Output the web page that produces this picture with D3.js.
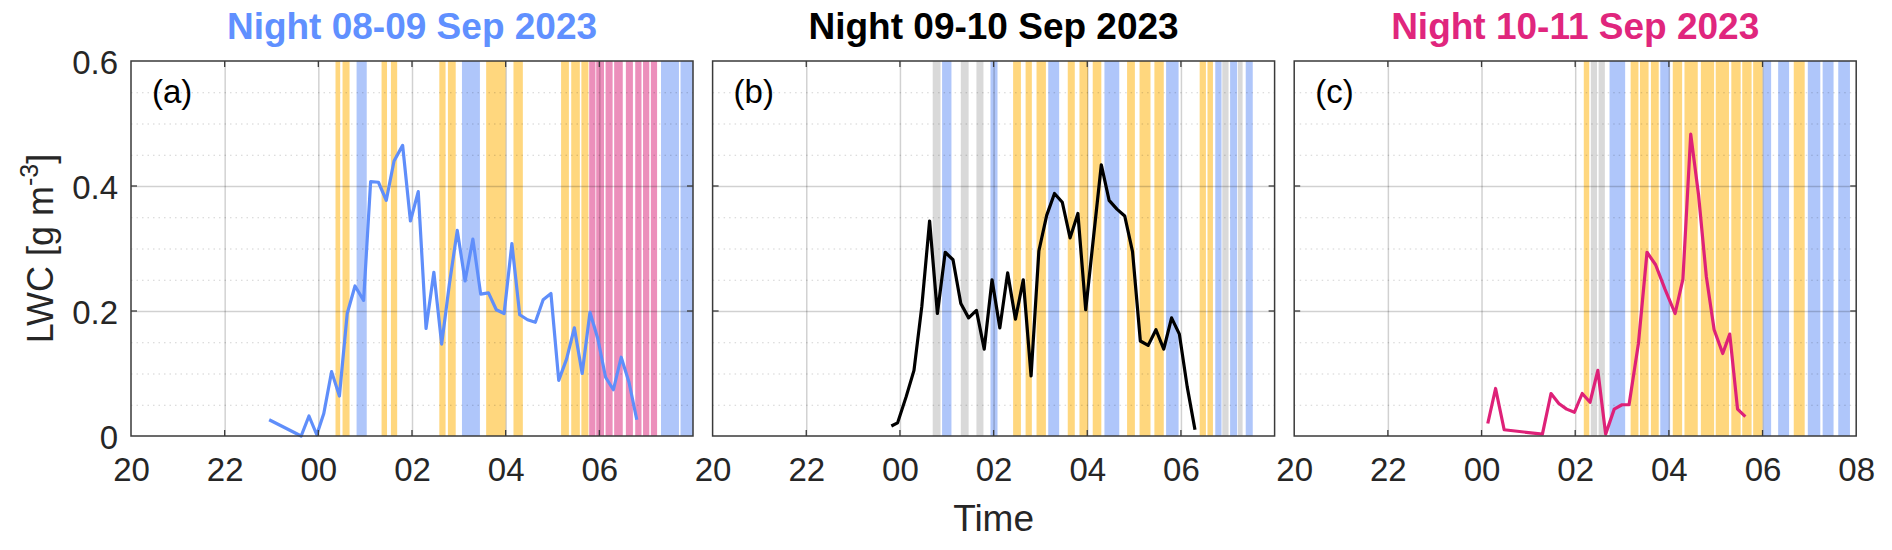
<!DOCTYPE html>
<html>
<head>
<meta charset="utf-8">
<script src="https://cdn.jsdelivr.net/npm/d3@7"></script>
<style>
  body { margin: 0; background: #fff; }
  svg { font-family: "Liberation Sans", Arial, sans-serif; }
</style>
</head>
<body>
<svg id="chart" width="1892" height="550"></svg>
<script>
// ---- data ----
const nights = ['2023-09-08', '2023-09-09', '2023-09-10']
const titles = ['Night 08-09 Sep 2023', 'Night 09-10 Sep 2023', 'Night 10-11 Sep 2023']
const panelTags = ['(a)', '(b)', '(c)']
const yTicks = [0, 0.2, 0.4, 0.6]

const timesA = ['22:57','23:38','23:48','23:58','00:07','00:17','00:27','00:37','00:47','00:58',
  '01:07','01:17','01:27','01:37','01:48','01:58','02:08','02:18','02:28','02:38',
  '02:48','02:58','03:08','03:18','03:28','03:38','03:48','03:58','04:08','04:18',
  '04:28','04:38','04:48','04:58','05:08','05:18','05:28','05:38','05:48','05:58',
  '06:08','06:18','06:28','06:38','06:48']
const lwcA = [0.026,0.000,0.032,0.002,0.036,0.103,0.064,0.196,0.240,0.217,
  0.407,0.406,0.377,0.440,0.465,0.344,0.391,0.172,0.262,0.147,
  0.244,0.329,0.248,0.315,0.227,0.229,0.202,0.196,0.308,0.194,
  0.186,0.182,0.218,0.228,0.089,0.123,0.173,0.100,0.198,0.156,
  0.094,0.074,0.126,0.086,0.026]

const timesB = ['23:49','23:57','00:08','00:18','00:28','00:38','00:48','00:58','01:08','01:18',
  '01:28','01:38','01:48','01:58','02:08','02:18','02:28','02:38','02:48','02:58',
  '03:08','03:18','03:28','03:38','03:48','03:58','04:08','04:18','04:28','04:38',
  '04:48','04:58','05:08','05:18','05:28','05:38','05:48','05:58','06:08','06:18']
const lwcB = [0.016,0.021,0.063,0.105,0.207,0.344,0.196,0.294,0.282,0.212,
  0.189,0.201,0.139,0.250,0.173,0.261,0.187,0.250,0.096,0.296,
  0.353,0.388,0.374,0.317,0.356,0.202,0.318,0.434,0.377,0.363,
  0.352,0.295,0.152,0.145,0.170,0.139,0.189,0.163,0.079,0.010]

const timesC = ['00:08','00:18','00:29','01:18','01:29','01:39','01:49','01:59','02:09','02:19',
  '02:29','02:39','02:50','03:00','03:09','03:21','03:32','03:43','03:55','04:08',
  '04:18','04:28','04:38','04:48','04:58','05:09','05:18','05:28','05:38']
const lwcC = [0.020,0.076,0.010,0.003,0.068,0.052,0.043,0.038,0.068,0.054,
  0.105,0.003,0.043,0.050,0.050,0.148,0.294,0.274,0.235,0.196,
  0.251,0.483,0.386,0.255,0.170,0.132,0.163,0.043,0.031]

// shaded periods: [start, end, class]  o = orange, b = blue, p = pink, g = grey
const bandsA = [['00:22','00:28','o'],['00:31','00:40','o'],['00:49','01:02','b'],['01:21','01:28','o'],
  ['01:33','01:41','o'],['02:35','02:43','o'],['02:46','02:56','o'],['03:04','03:27','b'],
  ['03:35','04:00','o'],['04:10','04:22','o'],['05:11','05:21','o'],['05:24','05:35','o'],
  ['05:37','05:46','o'],['05:47','05:55','p'],['05:56','06:06','p'],['06:08','06:17','p'],
  ['06:19','06:30','p'],['06:34','06:43','p'],['06:46','06:54','p'],['06:56','07:04','p'],
  ['07:06','07:14','p'],['07:19','07:42','b'],['07:44','08:00','b']]
const bandsB = [['00:42','00:52','g'],['00:54','01:06','b'],['01:18','01:28','g'],['01:38','01:47','g'],
  ['01:56','02:05','b'],['02:25','02:35','o'],['02:41','02:49','o'],['02:55','03:07','o'],
  ['03:10','03:24','b'],['03:35','03:44','o'],['03:50','04:01','o'],['04:07','04:18','o'],
  ['04:22','04:41','b'],['04:51','05:01','o'],['05:07','05:21','o'],['05:26','05:38','o'],
  ['05:41','05:57','b'],['06:24','06:32','o'],['06:34','06:41','o'],['06:44','06:52','b'],
  ['06:53','07:01','g'],['07:03','07:12','b'],['07:13','07:19','g'],['07:23','07:32','b']]
const bandsC = [['02:11','02:18','o'],['02:20','02:28','g'],['02:30','02:38','g'],['02:44','03:04','b'],
  ['03:11','03:21','o'],['03:23','03:34','o'],['03:37','03:47','o'],['03:49','04:01','b'],
  ['04:05','04:17','o'],['04:20','04:37','o'],['04:41','04:58','o'],['05:00','05:17','o'],
  ['05:20','05:32','o'],['05:34','05:46','o'],['05:48','06:00','o'],['06:01','06:11','b'],
  ['06:20','06:34','b'],['06:40','06:54','o'],['06:58','07:14','b'],['07:17','07:31','b'],
  ['07:37','07:52','b']]

// ---- styles ----
const seriesColors = ['#5f8efa', '#000000', '#de2178']
const titleColors = ['#6090ff', '#000000', '#e0267d']
const bandColors = {o: '#ffd77e', b: '#afc6fa', p: '#ec8fbb', g: '#d9d9d9'}

const panelW = 562, panelH = 375, panelGap = 19.6
const marginLeft = 131, marginTop = 61

const svg = d3.select('#chart')

const parseT = d3.timeParse('%Y-%m-%d %H:%M')
function toDate(night, hhmm) {
  const d = parseT(night + ' ' + hhmm)
  if (+hhmm.slice(0, 2) < 12) d.setDate(d.getDate() + 1)
  return d
}

const y = d3.scaleLinear().domain([0, 0.6]).range([panelH, 0])
const minorTicks = d3.range(1, 12).filter(k => k % 4 !== 0).map(k => k * 0.05)

const panels = [
  {night: nights[0], times: timesA, lwc: lwcA, bands: bandsA},
  {night: nights[1], times: timesB, lwc: lwcB, bands: bandsB},
  {night: nights[2], times: timesC, lwc: lwcC, bands: bandsC}
]

panels.forEach((p, i) => {
  const x0 = marginLeft + i * (panelW + panelGap)
  const g = svg.append('g').attr('transform', `translate(${x0},${marginTop})`)

  const start = toDate(p.night, '20:00'), end = toDate(p.night, '08:00')
  const x = d3.scaleTime().domain([start, end]).range([0, panelW])
  const hours = d3.timeHour.every(2).range(start, d3.timeMinute.offset(end, 1))
  const inner = hours.slice(1, -1)

  // shaded periods
  g.selectAll('rect.band')
    .data(p.bands)
    .join('rect')
    .attr('class', 'band')
    .attr('x', d => x(toDate(p.night, d[0])))
    .attr('width', d => x(toDate(p.night, d[1])) - x(toDate(p.night, d[0])))
    .attr('y', 0)
    .attr('height', panelH)
    .attr('fill', d => bandColors[d[2]])

  // minor dotted y grid
  g.append('g')
    .call(d3.axisLeft(y).tickValues(minorTicks).tickSize(-panelW).tickFormat(''))
    .call(a => a.select('.domain').remove())
    .selectAll('line')
    .attr('stroke', '#000')
    .attr('stroke-opacity', 0.18)
    .attr('stroke-width', 1.2)
    .attr('stroke-dasharray', '1.5,4')

  // major grid
  g.append('g')
    .call(d3.axisLeft(y).tickValues([0.2, 0.4]).tickSize(-panelW).tickFormat(''))
    .call(a => a.select('.domain').remove())
    .selectAll('line')
    .attr('stroke', '#000')
    .attr('stroke-opacity', 0.18)
    .attr('stroke-width', 1.5)

  g.append('g')
    .attr('transform', `translate(0,${panelH})`)
    .call(d3.axisBottom(x).tickValues(inner).tickSize(-panelH).tickFormat(''))
    .call(a => a.select('.domain').remove())
    .selectAll('line')
    .attr('stroke', '#000')
    .attr('stroke-opacity', 0.18)
    .attr('stroke-width', 1.5)

  // LWC line
  const line = d3.line()
    .x((d, k) => x(toDate(p.night, p.times[k])))
    .y(d => y(d))

  g.append('path')
    .datum(p.lwc)
    .attr('d', line)
    .attr('fill', 'none')
    .attr('stroke', seriesColors[i])
    .attr('stroke-width', 3.2)
    .attr('stroke-linejoin', 'round')

  // inward ticks
  const tickLen = 6
  const ticks = g.append('g').attr('stroke', '#3a3a3a').attr('stroke-width', 1.3)
  inner.forEach(h => {
    ticks.append('line').attr('x1', x(h)).attr('x2', x(h)).attr('y1', panelH).attr('y2', panelH - tickLen)
    ticks.append('line').attr('x1', x(h)).attr('x2', x(h)).attr('y1', 0).attr('y2', tickLen)
  })
  ;[0.2, 0.4].forEach(v => {
    ticks.append('line').attr('x1', 0).attr('x2', tickLen).attr('y1', y(v)).attr('y2', y(v))
    ticks.append('line').attr('x1', panelW).attr('x2', panelW - tickLen).attr('y1', y(v)).attr('y2', y(v))
  })

  // box
  g.append('rect')
    .attr('width', panelW)
    .attr('height', panelH)
    .attr('fill', 'none')
    .attr('stroke', '#3a3a3a')
    .attr('stroke-width', 1.5)

  // x tick labels
  const labelHours = i === panels.length - 1 ? hours : hours.slice(0, -1)
  g.append('g')
    .attr('transform', `translate(0,${panelH})`)
    .call(d3.axisBottom(x).tickValues(labelHours).tickSize(0).tickPadding(22).tickFormat(d3.timeFormat('%H')))
    .call(a => a.select('.domain').remove())
    .selectAll('text')
    .attr('fill', '#262626')
    .style('font-size', '33px')
    .style('font-family', '"Liberation Sans", Arial, sans-serif')

  // y tick labels only on first panel
  if (i === 0) {
    g.append('g')
      .call(d3.axisLeft(y).tickValues(yTicks).tickSize(0).tickPadding(13).tickFormat(d3.format('~g')))
      .call(a => a.select('.domain').remove())
      .selectAll('text')
      .attr('dy', '0.37em')
      .attr('fill', '#262626')
      .style('font-size', '33px')
      .style('font-family', '"Liberation Sans", Arial, sans-serif')
  }

  // panel tag
  g.append('text')
    .attr('x', 21)
    .attr('y', 42)
    .attr('fill', '#000')
    .style('font-size', '33px')
    .text(panelTags[i])

  // title
  svg.append('text')
    .attr('x', x0 + panelW / 2)
    .attr('y', 39)
    .attr('text-anchor', 'middle')
    .attr('fill', titleColors[i])
    .style('font-size', '37px')
    .style('font-weight', 'bold')
    .text(titles[i])
})

// axis labels
const yLab = svg.append('text')
  .attr('transform', `translate(53,${marginTop + panelH / 2}) rotate(-90)`)
  .attr('text-anchor', 'middle')
  .attr('fill', '#262626')
  .style('font-size', '36px')
yLab.append('tspan').text('LWC [g m')
yLab.append('tspan').attr('dy', -15).style('font-size', '25px').text('-3')
yLab.append('tspan').attr('dy', 15).text(']')

svg.append('text')
  .attr('x', marginLeft + panelW + panelGap + panelW / 2)
  .attr('y', 531)
  .attr('text-anchor', 'middle')
  .attr('fill', '#262626')
  .style('font-size', '37px')
  .text('Time')
</script>
</body>
</html>
